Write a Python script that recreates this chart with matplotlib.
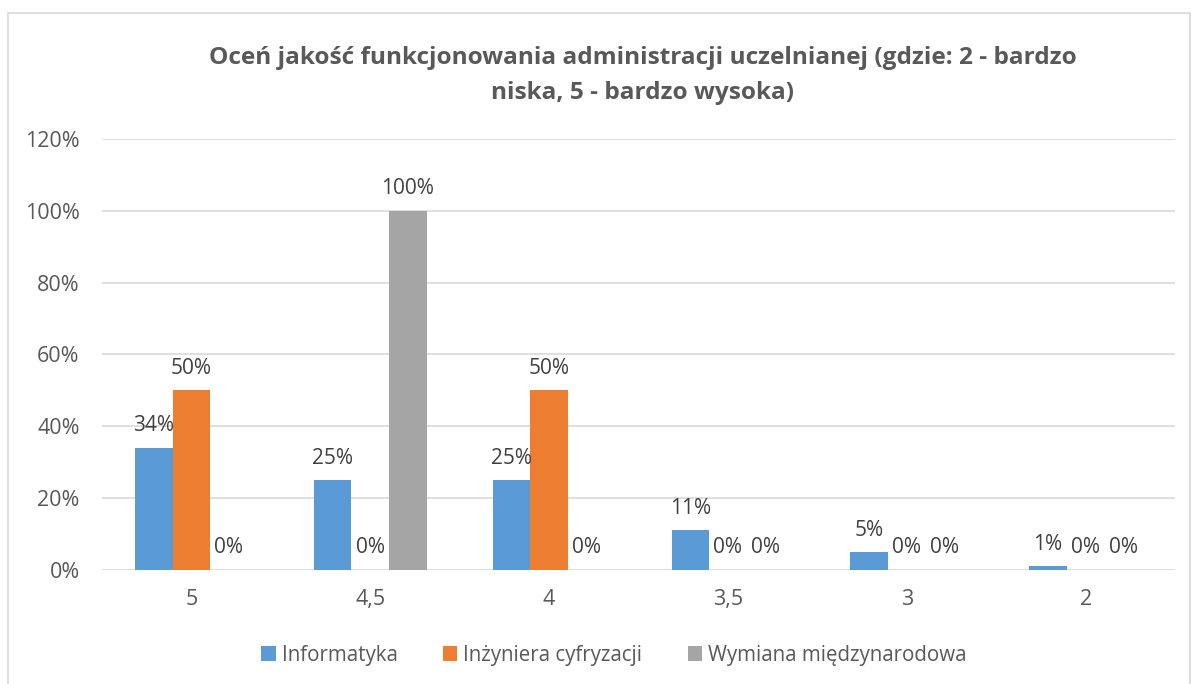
import matplotlib.pyplot as plt
import matplotlib.patches as mpatches
import numpy as np

categories = ['5', '4,5', '4', '3,5', '3', '2']
informatyka = [34, 25, 25, 11, 5, 1]
inzyniera = [50, 0, 50, 0, 0, 0]
wymiana = [0, 100, 0, 0, 0, 0]
series_names = ['Informatyka', 'Inżyniera cyfryzacji', 'Wymiana międzynarodowa']
colors = ['#5B9BD5', '#ED7D31', '#A5A5A5']

plt.rcParams['font.family'] = ['Open Sans', 'DejaVu Sans']
text_color = '#595959'

fig = plt.figure(figsize=(11.99, 6.84), dpi=100)
ax = fig.add_axes([0.085, 0.1667, 0.895, 0.6303])

# outer chart border
fig.patches.append(mpatches.Rectangle((8 / 1199, -0.01), 1182 / 1199, 1 - 13 / 684 + 0.01,
                                      transform=fig.transFigure, fill=False,
                                      edgecolor='#D9D9D9', linewidth=1.2))

x = np.arange(len(categories))
w = 0.21
for i, (vals, name) in enumerate(zip([informatyka, inzyniera, wymiana], series_names)):
    pos = x + (i - 1) * w
    ax.bar(pos, vals, w, color=colors[i], label=name)
    for px, v in zip(pos, vals):
        ax.text(px, v + 3.2, f'{v}%', ha='center', va='bottom', fontsize=15, color='#404040')

ax.set_xlim(-0.5, len(categories) - 0.5)
ax.set_ylim(0, 120)
ax.set_yticks(range(0, 121, 20))
ax.set_yticklabels([f'{t}%' for t in range(0, 121, 20)])
ax.set_xticks(x)
ax.set_xticklabels(categories)
ax.tick_params(axis='both', length=0, labelsize=15.5, labelcolor=text_color)
ax.tick_params(axis='y', pad=16)
ax.tick_params(axis='x', pad=14)
ax.grid(axis='y', color='#D9D9D9', linewidth=1.2)
ax.set_axisbelow(True)
for s in ax.spines.values():
    s.set_visible(False)

fig.text(0.536, 0.915, 'Oceń jakość funkcjonowania administracji uczelnianej (gdzie: 2 - bardzo',
         ha='center', va='center', fontsize=17.6, fontweight='bold', color=text_color)
fig.text(0.536, 0.864, 'niska, 5 - bardzo wysoka)',
         ha='center', va='center', fontsize=17.6, fontweight='bold', color=text_color)

fig.legend(loc='center', bbox_to_anchor=(0.512, 0.042), ncol=3, frameon=False,
           fontsize=14.8, handlelength=0.7, handleheight=0.7, handletextpad=0.3,
           columnspacing=2.2, labelcolor=text_color)

fig.savefig('out.png', dpi=100)
